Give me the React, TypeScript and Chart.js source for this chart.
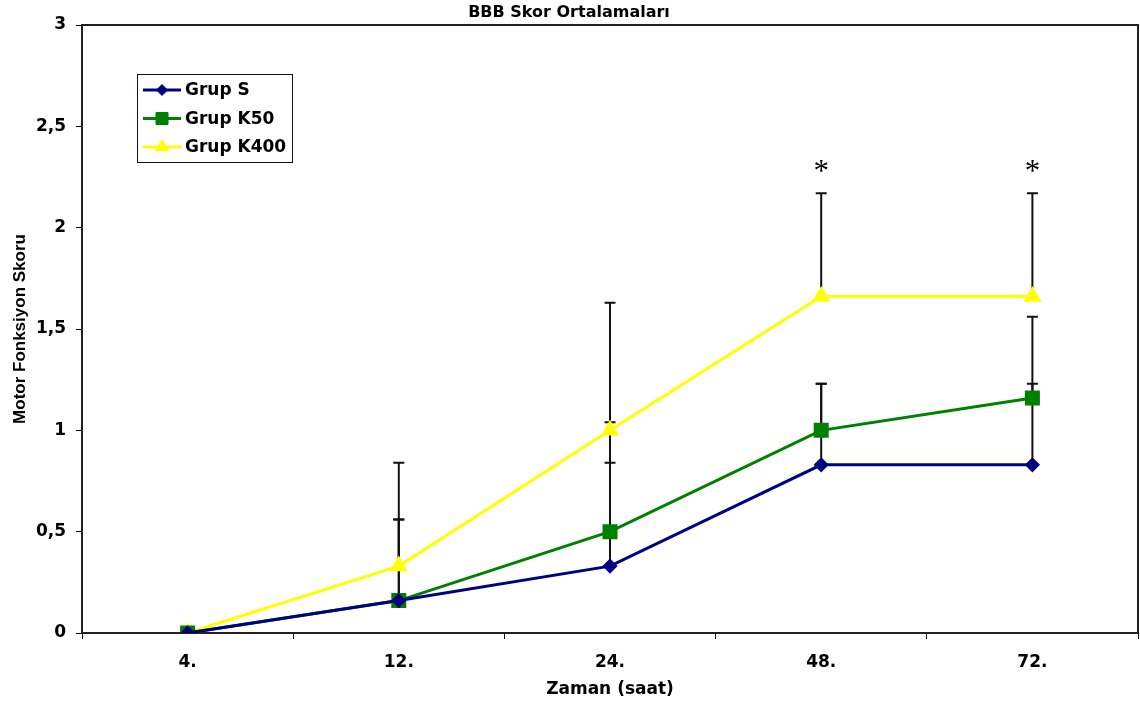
import React, { useEffect, useRef } from "react";
import { Chart, registerables } from "chart.js";
import { drawPoint } from "chart.js/helpers";

Chart.register(...registerables);

const categories = ["4.", "12.", "24.", "48.", "72."];
const grupS = [0, 0.16, 0.33, 0.83, 0.83];
const grupK50 = [0, 0.16, 0.5, 1.0, 1.16];
const grupK400 = [0, 0.33, 1.0, 1.66, 1.66];
const sdS = [0, 0.4, 0.51, 0.4, 0.4];
const sdK50 = [0, 0.4, 0.54, 0.23, 0.4];
const sdK400 = [0, 0.51, 0.63, 0.51, 0.51];
const seriesNames = ["Grup S", "Grup K50", "Grup K400"];
const significantCategories = ["48.", "72."];
const asteriskLevel = 2.28;

const H_FONT = '"DejaVu Sans", "Liberation Sans", Arial, sans-serif';
const V_FONT = '"Liberation Sans", Arial, sans-serif';

const frameAndErrorBars = {
  id: "frameAndErrorBars",
  beforeDatasetsDraw(chart: any) {
    const { ctx, chartArea } = chart;
    const xs = chart.scales.x;
    const ys = chart.scales.y;
    ctx.save();
    ctx.strokeStyle = "#222";
    ctx.lineWidth = 2;
    ctx.strokeRect(chartArea.left, chartArea.top, chartArea.right - chartArea.left, chartArea.bottom - chartArea.top);
    ctx.strokeStyle = "#111";
    ctx.lineWidth = 2;
    chart.data.datasets.forEach((ds: any) => {
      const sd = ds.errors as number[];
      if (!sd) return;
      ds.data.forEach((v: number, i: number) => {
        if (!sd[i]) return;
        const px = xs.getPixelForValue(i);
        const y0 = ys.getPixelForValue(v);
        const y1 = ys.getPixelForValue(v + sd[i]);
        ctx.beginPath();
        ctx.moveTo(px, y0);
        ctx.lineTo(px, y1);
        ctx.moveTo(px - 5.5, y1);
        ctx.lineTo(px + 5.5, y1);
        ctx.stroke();
      });
    });
    ctx.restore();
  },
};

const annotations = {
  id: "annotations",
  afterDatasetsDraw(chart: any) {
    const { ctx, chartArea } = chart;
    const xs = chart.scales.x;
    const ys = chart.scales.y;
    ctx.save();
    // asterisks
    ctx.fillStyle = "#000";
    ctx.font = '31px "Liberation Serif", "Times New Roman", serif';
    ctx.textAlign = "center";
    ctx.textBaseline = "middle";
    significantCategories.forEach((c) => {
      const i = categories.indexOf(c);
      ctx.fillText("*", xs.getPixelForValue(i), ys.getPixelForValue(asteriskLevel) + 2);
    });
    // legend
    const bx = chartArea.left + 55;
    const by = chartArea.top + 49;
    const bw = 155;
    const bh = 88;
    ctx.fillStyle = "#fff";
    ctx.fillRect(bx, by, bw, bh);
    ctx.strokeStyle = "#111";
    ctx.lineWidth = 1;
    ctx.strokeRect(bx + 0.5, by + 0.5, bw, bh);
    chart.data.datasets.forEach((ds: any, k: number) => {
      const cy = by + 16 + k * 28.5;
      ctx.strokeStyle = ds.borderColor;
      ctx.lineWidth = 3;
      ctx.beginPath();
      ctx.moveTo(bx + 6, cy);
      ctx.lineTo(bx + 44, cy);
      ctx.stroke();
      ctx.fillStyle = ds.pointBackgroundColor;
      ctx.strokeStyle = ds.pointBorderColor;
      ctx.lineWidth = 1;
      drawPoint(ctx, { pointStyle: ds.pointStyle, rotation: 0, radius: ds.pointRadius, borderWidth: 1 }, bx + 25, cy);
      ctx.fillStyle = "#000";
      ctx.font = 'bold 17px ' + H_FONT;
      ctx.textAlign = "left";
      ctx.textBaseline = "middle";
      ctx.fillText(ds.label, bx + 48, cy + 1);
    });
    ctx.restore();
  },
};

export default function App() {
  const ref = useRef<HTMLCanvasElement | null>(null);
  useEffect(() => {
    document.body.style.margin = "0";
    const canvas = ref.current!;
    const chart = new Chart(canvas, {
      type: "line",
      data: {
        labels: categories,
        datasets: [
          {
            label: seriesNames[0],
            data: grupS,
            errors: sdS,
            borderColor: "#000080",
            backgroundColor: "#000080",
            pointBackgroundColor: "#000080",
            pointBorderColor: "#000080",
            pointStyle: "rectRot",
            pointRadius: 5.5,
            borderWidth: 3,
          } as any,
          {
            label: seriesNames[1],
            data: grupK50,
            errors: sdK50,
            borderColor: "#008000",
            backgroundColor: "#008000",
            pointBackgroundColor: "#008000",
            pointBorderColor: "#008000",
            pointStyle: "rect",
            pointRadius: 8.5,
            borderWidth: 3,
          } as any,
          {
            label: seriesNames[2],
            data: grupK400,
            errors: sdK400,
            borderColor: "#FFFF00",
            backgroundColor: "#FFFF00",
            pointBackgroundColor: "#FFFF00",
            pointBorderColor: "#FFFF00",
            pointStyle: "triangle",
            pointRadius: 7.5,
            borderWidth: 3,
          } as any,
        ],
      },
      options: {
        responsive: false,
        animation: false,
        devicePixelRatio: 1,
        layout: { autoPadding: false, padding: { left: 0, right: 2, top: 0, bottom: 0 } },
        plugins: {
          legend: { display: false },
          tooltip: { enabled: false },
          title: {
            display: true,
            text: "BBB Skor Ortalamaları",
            color: "#000",
            font: { family: H_FONT, size: 16, weight: "bold", lineHeight: 1.2 },
            padding: { top: 3.2, bottom: 2.6 },
          },
        },
        scales: {
          x: {
            type: "category",
            offset: true,
            grid: { display: true, drawOnChartArea: false, drawTicks: true, tickLength: 6, offset: true, color: "#000", lineWidth: 1 },
            border: { display: true, color: "#000", width: 2 },
            ticks: { color: "#000", padding: 13, font: { family: H_FONT, size: 17, weight: "bold", lineHeight: 1.2 }, maxRotation: 0 },
            title: {
              display: true,
              text: "Zaman (saat)",
              color: "#000",
              font: { family: H_FONT, size: 17, weight: "bold", lineHeight: 1.2 },
              padding: { top: 0, bottom: 6 },
            },
            afterFit: (s: any) => {
              s.height = 73;
              s.paddingLeft = 0;
              s.paddingRight = 0;
            },
          },
          y: {
            min: 0,
            max: 3,
            grid: { display: true, drawOnChartArea: false, drawTicks: true, tickLength: 6, color: "#000", lineWidth: 1 },
            border: { display: true, color: "#000", width: 2 },
            ticks: {
              stepSize: 0.5,
              color: "#000",
              padding: 10,
              font: { family: H_FONT, size: 17, weight: "bold", lineHeight: 1.2 },
              callback: (v: any) => String(v).replace(".", ","),
            },
            title: {
              display: true,
              text: "Motor Fonksiyon Skoru",
              color: "#000",
              font: { family: V_FONT, size: 17, weight: "bold", lineHeight: 1.2 },
              padding: { top: 10, bottom: 0 },
            },
            afterFit: (s: any) => {
              s.width = 82;
            },
          },
        },
      },
      plugins: [frameAndErrorBars, annotations],
    });
    return () => chart.destroy();
  }, []);
  return <canvas ref={ref} width={1140} height={706} style={{ display: "block" }} />;
}
